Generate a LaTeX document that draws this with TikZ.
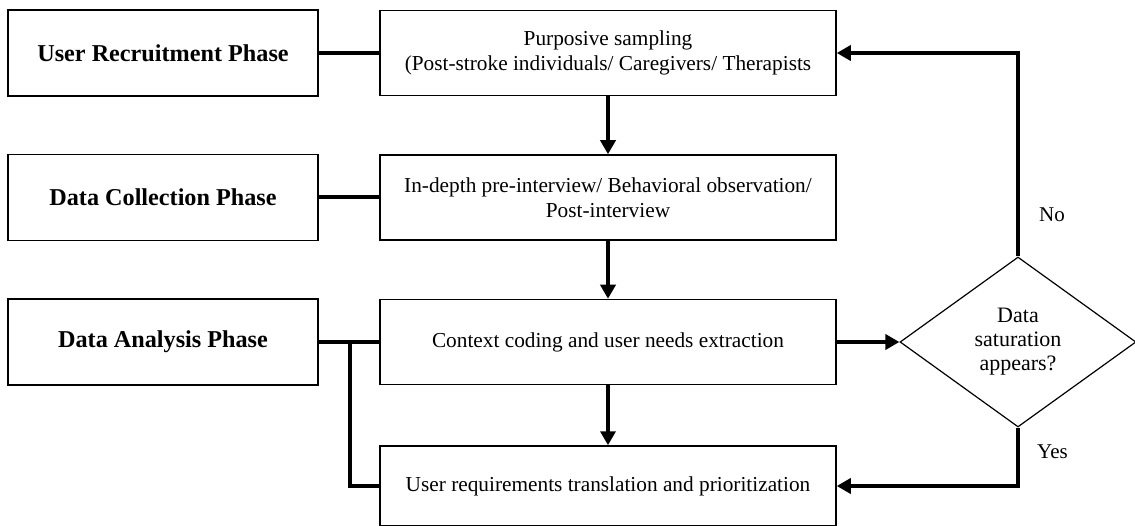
\documentclass[tikz,border=0pt]{standalone}
\usepackage{fontspec}
\setmainfont{Liberation Serif}
\usetikzlibrary{shapes.geometric,arrows.meta}
\begin{document}
\begin{tikzpicture}[x=1pt,y=-1pt,
  phase/.style={draw, line width=1.5pt, minimum width=310pt, minimum height=86pt, inner sep=0pt, font=\fontsize{24.2}{28}\selectfont\bfseries},
  task/.style={draw, line width=1.5pt, minimum width=456pt, minimum height=85pt, inner sep=0pt, align=center, font=\fontsize{21.3}{25}\selectfont},
  decision/.style={draw, line width=1.2pt, diamond, minimum width=236pt, minimum height=170pt, inner sep=0pt, align=center, font=\fontsize{22}{24}\selectfont},
  conn/.style={line width=4pt},
  arr/.style={line width=4pt, -{Triangle[length=14pt,width=15pt]}},
  lbl/.style={font=\fontsize{21}{24}\selectfont, anchor=west, inner sep=0pt}]
\useasboundingbox (0,0) rectangle (1135,526);
\node[phase] (l1) at (163,53) {User Recruitment Phase};
\node[phase] (l2) at (163,197.5) {Data Collection Phase};
\node[phase] (l3) at (163,342) {Data Analysis Phase};
\node[task] (m1) at (608,53) {Purposive sampling\\(Post-stroke individuals/ Caregivers/ Therapists};
\node[task] (m2) at (608,197.5) {In-depth pre-interview/ Behavioral observation/\\Post-interview};
\node[task] (m3) at (608,342) {Context coding and user needs extraction};
\node[task, minimum height=80pt] (m4) at (608,486) {User requirements translation and prioritization};
\node[decision] (d) at (1018,342) {Data\\saturation\\appears?};
\coordinate (br) at (350,342);
\draw[conn] (l1.east) -- (m1.west);
\draw[conn] (l2.east) -- (m2.west);
\draw[conn] (l3.east) -- (m3.west);
\draw[conn] (br) |- (m4.west);
\draw[arr] (m1.south) -- (m2.north);
\draw[arr] (m2.south) -- (m3.north);
\draw[arr] (m3.south) -- (m4.north);
\draw[arr] (m3.east) -- (d.west);
\draw[arr] (d.north) |- (m1.east);
\draw[arr] (d.south) |- (m4.east);
\node[lbl] (no) at (1039,215) {No};
\node[lbl] (yes) at (1037,452) {Yes};
\end{tikzpicture}
\end{document}
